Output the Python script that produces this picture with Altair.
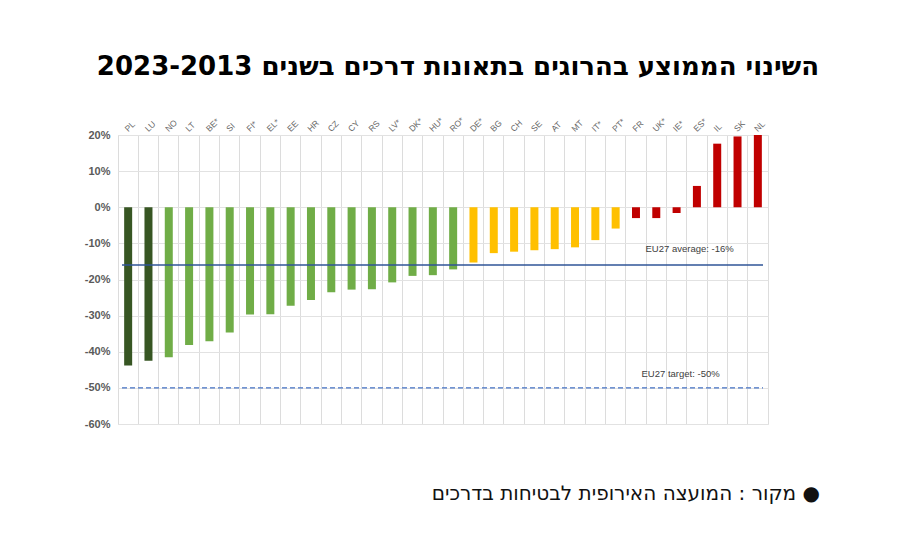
import altair as alt
import pandas as pd

countries = ["PL", "LU", "NO", "LT", "BE*", "SI", "FI*", "EL*", "EE", "HR", "CZ", "CY",
             "RS", "LV*", "DK*", "HU*", "RO*", "DE*", "BG", "CH", "SE", "AT", "MT", "IT*",
             "PT*", "FR", "UK*", "IE*", "ES*", "IL", "SK", "NL"]
changes = [-43.8, -42.5, -41.5, -38.1, -37.1, -34.7, -29.7, -29.6, -27.3, -25.7, -23.5, -22.8,
           -22.7, -20.8, -19.0, -18.8, -17.2, -15.3, -12.7, -12.3, -11.9, -11.6, -11.1, -9.1,
           -5.9, -3.0, -3.0, -1.6, 5.9, 17.6, 19.6, 20.0]
groups = ["top"] * 2 + ["good"] * 15 + ["moderate"] * 8 + ["bad"] * 7
group_names = ["top", "good", "moderate", "bad"]
group_colors = ["#375623", "#70AD47", "#FFC000", "#C00000"]
eu_average = -16
eu_target = -50
y_ticks = [-60, -50, -40, -30, -20, -10, 0, 10, 20]

title_text = "השינוי הממוצע בהרוגים בתאונות דרכים בשנים 2023-2013"
source_text = "מקור : המועצה האירופית לבטיחות בדרכים ●"
avg_label = "EU27 average: -16%"
target_label = "EU27 target: -50%"

df = pd.DataFrame({"country": countries, "change": changes, "group": groups})
one = pd.DataFrame({"k": [0]})

x_scale = alt.Scale(domain=countries, paddingInner=0, paddingOuter=0)
x_axis = alt.Axis(orient="top", bandPosition=0, labels=False,
                  grid=True, gridColor="#dcdcdc", gridWidth=1,
                  ticks=False, domain=False, title=None)
y_scale = alt.Scale(domain=[-60, 20], nice=False)
y_axis = alt.Axis(values=y_ticks, labelExpr="datum.value + '%'", labelFont="Liberation Sans",
                  labelFontSize=11, labelFontWeight="bold", labelColor="#5a5a5a",
                  labelOverlap=False, labelPadding=8, grid=True, gridColor="#e2e2e2",
                  ticks=False, domain=False, title=None)

bars = alt.Chart(df).mark_bar(size=8).encode(
    x=alt.X("country:N", scale=x_scale, axis=x_axis),
    y=alt.Y("change:Q", scale=y_scale, axis=y_axis),
    color=alt.Color("group:N", scale=alt.Scale(domain=group_names, range=group_colors), legend=None),
)

country_labels = alt.Chart(df).mark_text(
    angle=315, align="left", baseline="middle", font="Liberation Sans", fontSize=8.5,
    color="#666666", dx=-3
).encode(
    x=alt.X("country:N", scale=x_scale, axis=x_axis),
    y=alt.value(-7),
    text="country:N",
)

avg_rule = alt.Chart(one).mark_rule(color="#2F5597", strokeWidth=1.5).encode(
    y=alt.YDatum(eu_average, type="quantitative", scale=y_scale, axis=y_axis),
    x=alt.value(4), x2=alt.value(645)
)
target_rule = alt.Chart(one).mark_rule(color="#4472C4", strokeWidth=1.2, strokeDash=[5, 3]).encode(
    y=alt.YDatum(eu_target, type="quantitative", scale=y_scale, axis=y_axis),
    x=alt.value(4), x2=alt.value(645)
)

avg_text = alt.Chart(one).mark_text(
    text=avg_label, font="Liberation Sans", fontSize=9.5, color="#404040",
    align="center", dx=13, dy=-16
).encode(
    x=alt.XDatum("IE*", type="nominal", scale=x_scale, axis=x_axis),
    y=alt.YDatum(eu_average, type="quantitative", scale=y_scale, axis=y_axis),
)

target_text = alt.Chart(one).mark_text(
    text=target_label, font="Liberation Sans", fontSize=9.5, color="#404040",
    align="center", dx=4, dy=-14
).encode(
    x=alt.XDatum("IE*", type="nominal", scale=x_scale, axis=x_axis),
    y=alt.YDatum(eu_target, type="quantitative", scale=y_scale, axis=y_axis),
)

source = alt.Chart(one).mark_text(
    text=source_text, font="DejaVu Sans", fontSize=20, color="#111111",
    align="right", baseline="middle"
).encode(x=alt.value(702), y=alt.value(359))

chart = alt.layer(bars, country_labels, avg_rule, target_rule, avg_text, target_text, source).properties(
    width=650, height=289,
    padding={"left": 110, "top": 127, "right": 124, "bottom": 100},
    autosize=alt.AutoSizeParams(type="none"),
    title=alt.TitleParams(title_text, anchor="middle", font="DejaVu Sans", fontSize=26,
                          fontWeight="bold", color="#000000", offset=36, dx=15),
).configure_view(stroke="#d9d9d9").configure(background="white")

chart.save("out.html", embed_options={"renderer": "svg", "actions": False})
